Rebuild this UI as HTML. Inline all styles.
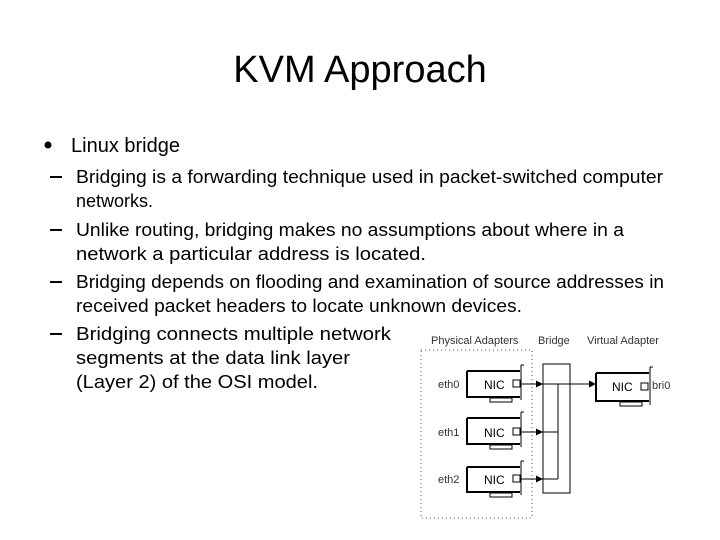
<!DOCTYPE html>
<html><head><meta charset="utf-8"><style>
html,body{margin:0;padding:0;background:#fff;}
svg{display:block;}
</style></head><body>
<svg width="720" height="540" viewBox="0 0 720 540" xmlns="http://www.w3.org/2000/svg" font-family="Liberation Sans, sans-serif">
<text x="360" y="82" font-size="38" text-anchor="middle" fill="#000">KVM Approach</text>
<circle cx="48" cy="145" r="3.5" fill="#000"/>
<text x="71" y="152" font-size="20" fill="#000">Linux bridge</text>
<g font-size="18" fill="#000">
<rect x="50" y="176" width="12" height="2"/>
<text x="76" y="183" textLength="587" lengthAdjust="spacingAndGlyphs">Bridging is a forwarding technique used in packet-switched computer</text>
<text x="76" y="207">networks.</text>
<rect x="50" y="229" width="12" height="2"/>
<text x="76" y="236" textLength="548" lengthAdjust="spacingAndGlyphs">Unlike routing, bridging makes no assumptions about where in a</text>
<text x="76" y="260" textLength="350" lengthAdjust="spacingAndGlyphs">network a particular address is located.</text>
<rect x="50" y="281" width="12" height="2"/>
<text x="76" y="288" textLength="588" lengthAdjust="spacingAndGlyphs">Bridging depends on flooding and examination of source addresses in</text>
<text x="76" y="312" textLength="446" lengthAdjust="spacingAndGlyphs">received packet headers to locate unknown devices.</text>
<rect x="50" y="333" width="12" height="2"/>
<text x="76" y="340" textLength="315" lengthAdjust="spacingAndGlyphs">Bridging connects multiple network</text>
<text x="76" y="364" textLength="274" lengthAdjust="spacingAndGlyphs">segments at the data link layer</text>
<text x="76" y="388" textLength="242" lengthAdjust="spacingAndGlyphs">(Layer 2) of the OSI model.</text>
</g>
<g font-size="11" fill="#333">
<text x="431" y="344">Physical Adapters</text>
<text x="538" y="344">Bridge</text>
<text x="587" y="344">Virtual Adapter</text>
<text x="438" y="388">eth0</text>
<text x="438" y="436">eth1</text>
<text x="438" y="483">eth2</text>
<text x="652" y="389">bri0</text>
</g>
<rect x="421" y="350" width="111" height="168" fill="none" stroke="#555" stroke-width="1" stroke-dasharray="1,3"/>
<g stroke="#000" fill="none">
<g id="n0">
<path d="M467 371 H520 M467 371 V397 H520" stroke-width="2"/>
<path d="M521 365 H524 M521 365 V400" stroke-width="1"/>
<rect x="513" y="380" width="7" height="7" stroke-width="1" fill="#fff"/>
<rect x="490" y="398" width="22" height="4" stroke-width="1"/>
</g>
<path d="M467 418 H520 M467 418 V444 H520" stroke-width="2"/>
<path d="M521 412 H524 M521 412 V447" stroke-width="1"/>
<rect x="513" y="428" width="7" height="7" stroke-width="1" fill="#fff"/>
<rect x="490" y="445" width="22" height="4" stroke-width="1"/>
<path d="M467 467 H520 M467 467 V492 H520" stroke-width="2"/>
<path d="M521 461 H524 M521 461 V495" stroke-width="1"/>
<rect x="513" y="475" width="7" height="7" stroke-width="1" fill="#fff"/>
<rect x="490" y="493" width="22" height="4" stroke-width="1"/>
<rect x="543" y="364" width="27" height="129" stroke-width="1"/>
<path d="M520 384 H543 M520 432 H558 M520 479 H558 M558 384 V479 M543 384 H592" stroke-width="1"/>
<path d="M596 373 H649 M596 373 V401 H649" stroke-width="2"/>
<path d="M650 367 H653 M650 367 V405" stroke-width="1"/>
<rect x="641" y="383" width="7" height="7" stroke-width="1" fill="#fff"/>
<rect x="620" y="402" width="22" height="4" stroke-width="1"/>
</g>
<g fill="#000">
<path d="M543 384 l-7 -3.5 v7z"/>
<path d="M543 432 l-7 -3.5 v7z"/>
<path d="M543 479 l-7 -3.5 v7z"/>
<path d="M596 384 l-7 -3.5 v7z"/>
</g>
<g font-size="12" fill="#000">
<text x="484" y="389">NIC</text>
<text x="484" y="437">NIC</text>
<text x="484" y="484">NIC</text>
<text x="612" y="391">NIC</text>
</g>
</svg>
</body></html>
